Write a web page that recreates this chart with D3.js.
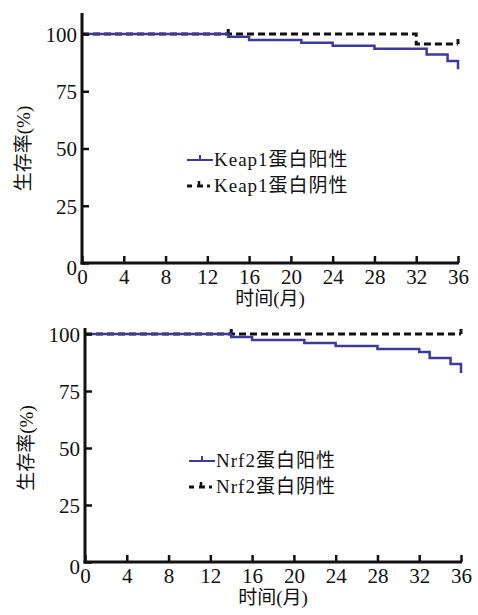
<!DOCTYPE html>
<html>
<head>
<meta charset="utf-8">
<script src="https://cdn.jsdelivr.net/npm/d3@7"></script>
<style>
  body { margin: 0; background: #fff; }
  svg text { font-family: "Liberation Serif", "Times New Roman", "Noto Sans CJK SC", serif !important; fill: #111; }
</style>
</head>
<body>
<script>
let w = 478
let h = 615

// x ticks (months) and y ticks (%)
let monthTicks = [0, 4, 8, 12, 16, 20, 24, 28, 32, 36]
let rateTicks = [0, 25, 50, 75, 100]

// panel 1 : Keap1
let keapPosMonths = [0, 14, 16, 21, 24, 28, 33, 35, 36]
let keapPosRates = [100, 98.8, 97.4, 96.2, 94.9, 93.6, 91.1, 88.2, 84.6]
let keapNegMonths = [0, 32, 36]
let keapNegRates = [100, 95.6, 95.6]
let keapNegCensor = [14, 36]
let keapLabels = ["Keap1蛋白阳性", "Keap1蛋白阴性"]

// panel 2 : Nrf2
let nrfPosMonths = [0, 14, 16, 21, 24, 28, 32, 33, 35, 36]
let nrfPosRates = [100, 98.7, 97.4, 96.1, 94.7, 93.4, 92.1, 89.5, 86.8, 82.9]
let nrfNegMonths = [0, 36]
let nrfNegRates = [100, 100]
let nrfNegCensor = [14, 36]
let nrfLabels = ["Nrf2蛋白阳性", "Nrf2蛋白阴性"]

let blue = "#3c3c98"

let svg = d3.select("body").append("svg")
  .attr("width", w)
  .attr("height", h)

let zip = (xs, ys) => xs.map((x, i) => [x, ys[i]])

let drawPanel = (p) => {
  let xScale = d3.scaleLinear().domain([0, 36]).range([p.x0, p.x1])
  let yScale = d3.scaleLinear().domain([0, 100]).range([p.y0, p.y1])
  let g = svg.append("g")

  let line = d3.line()
    .x(d => xScale(d[0]))
    .y(d => yScale(d[1]))
    .curve(d3.curveStepAfter)

  // negative (dashed) under positive
  g.append("path")
    .attr("d", line(zip(p.negM, p.negR)))
    .attr("fill", "none")
    .attr("stroke", "#111")
    .attr("stroke-width", 3)
    .attr("stroke-dasharray", "7,4")

  let negAt = (m) => zip(p.negM, p.negR).filter(a => a[0] <= m).pop()[1]
  g.selectAll(".cens")
    .data(p.cens)
    .enter()
    .append("line")
    .attr("x1", d => xScale(d))
    .attr("x2", d => xScale(d))
    .attr("y1", d => yScale(negAt(d)))
    .attr("y2", d => yScale(negAt(d)) - 5)
    .attr("stroke", "#111")
    .attr("stroke-width", 3)

  g.append("path")
    .attr("d", line(zip(p.posM, p.posR)))
    .attr("fill", "none")
    .attr("stroke", blue)
    .attr("stroke-width", 2.5)

  // axes
  let xAxis = d3.axisBottom(xScale).tickValues(monthTicks).tickSize(-7).tickPadding(12)
  let yAxis = d3.axisLeft(yScale).tickValues(rateTicks).tickSize(-7).tickPadding(5)

  let gx = g.append("g")
    .attr("transform", "translate(0," + p.y0 + ")")
    .call(xAxis)
  let gy = g.append("g")
    .attr("transform", "translate(" + p.x0 + ",0)")
    .call(yAxis)

  ;[gx, gy].forEach(a => {
    a.attr("font-family", null).attr("font-size", null)
    a.select(".domain").remove()
    a.selectAll("line").attr("stroke", "#111").attr("stroke-width", 2.5)
    a.selectAll("text")
      .style("font-size", "21px")
      .attr("fill", "#111")
  })
  gx.selectAll("text").attr("dy", "0.45em")
  gy.selectAll("text").attr("dy", "0.35em")
  gy.selectAll(".tick").filter(d => d === 0).select("text").attr("dy", "0.55em").attr("x", -5)

  // axis lines
  g.append("line")
    .attr("x1", p.x0).attr("x2", p.x0)
    .attr("y1", p.yTop).attr("y2", p.y0 + 1.5)
    .attr("stroke", "#111").attr("stroke-width", 3)
  g.append("line")
    .attr("x1", p.x0 - 1.5).attr("x2", p.x1 + 1)
    .attr("y1", p.y0).attr("y2", p.y0)
    .attr("stroke", "#111").attr("stroke-width", 3)

  // titles
  g.append("text")
    .text("时间(月)")
    .attr("x", (p.x0 + p.x1) / 2)
    .attr("y", p.y0 + 42)
    .attr("text-anchor", "middle")
    .style("font-size", "19px")

  g.append("text")
    .text("生存率(%)")
    .attr("transform", "translate(" + (p.x0 - 52) + "," + yScale(50) + ") rotate(-90)")
    .attr("text-anchor", "middle")
    .style("font-size", "19px")

  // legend
  let lx = p.legX
  let ly = p.legY
  g.append("line")
    .attr("x1", lx).attr("x2", lx + 26)
    .attr("y1", ly).attr("y2", ly)
    .attr("stroke", blue).attr("stroke-width", 2)
  g.append("line")
    .attr("x1", lx + 13).attr("x2", lx + 13)
    .attr("y1", ly).attr("y2", ly - 5)
    .attr("stroke", blue).attr("stroke-width", 2)

  let ly2 = ly + 26
  g.append("line")
    .attr("x1", lx).attr("x2", lx + 5)
    .attr("y1", ly2).attr("y2", ly2)
    .attr("stroke", "#111").attr("stroke-width", 3)
  g.append("line")
    .attr("x1", lx + 10).attr("x2", lx + 16)
    .attr("y1", ly2).attr("y2", ly2)
    .attr("stroke", "#111").attr("stroke-width", 3)
  g.append("line")
    .attr("x1", lx + 12).attr("x2", lx + 12)
    .attr("y1", ly2).attr("y2", ly2 - 5)
    .attr("stroke", "#111").attr("stroke-width", 2.5)
  g.append("line")
    .attr("x1", lx + 20).attr("x2", lx + 23)
    .attr("y1", ly2).attr("y2", ly2)
    .attr("stroke", "#111").attr("stroke-width", 3)

  g.selectAll(".leg")
    .data(p.labels)
    .enter()
    .append("text")
    .text(d => d)
    .attr("x", lx + 27)
    .attr("y", (d, i) => ly + 6 + i * 26)
    .style("font-size", "19px")
    .style("letter-spacing", "1px")
}

drawPanel({
  x0: 82, x1: 458, y0: 263, y1: 34, yTop: 13,
  posM: keapPosMonths, posR: keapPosRates,
  negM: keapNegMonths, negR: keapNegRates, cens: keapNegCensor,
  labels: keapLabels, legX: 187, legY: 160
})

drawPanel({
  x0: 85, x1: 461, y0: 562, y1: 334, yTop: 328,
  posM: nrfPosMonths, posR: nrfPosRates,
  negM: nrfNegMonths, negR: nrfNegRates, cens: nrfNegCensor,
  labels: nrfLabels, legX: 189, legY: 461
})
</script>
</body>
</html>
